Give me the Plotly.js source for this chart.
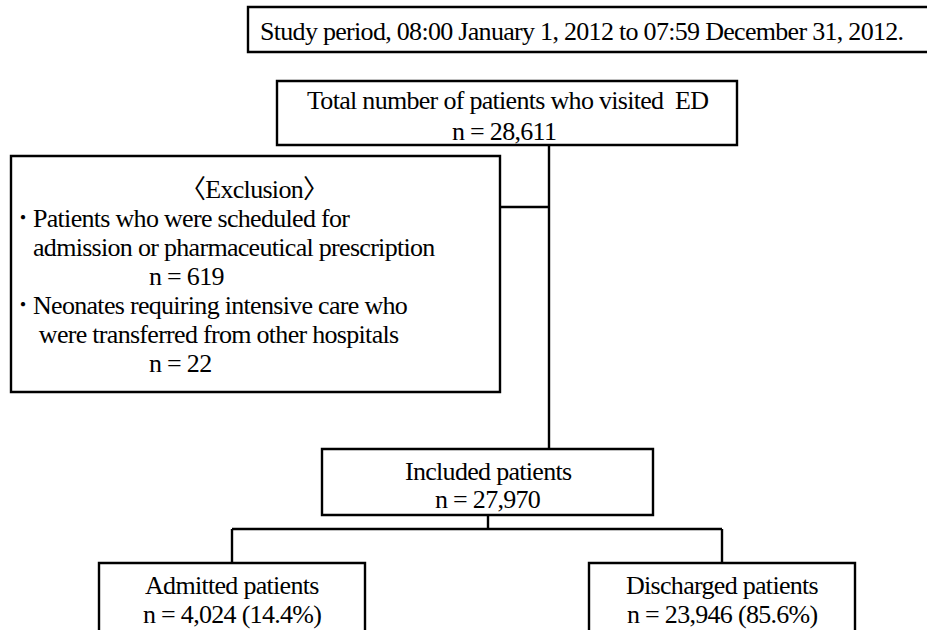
<!DOCTYPE html>
<html>
<head>
<meta charset="utf-8">
<script src="https://cdn.plot.ly/plotly-3.0.1.min.js"></script>
<style>
html,body{margin:0;padding:0;background:#fff;}
#chart{width:927px;height:630px;}
.annotation-text{letter-spacing:-0.7px;}
</style>
</head>
<body>
<div id="chart"></div>
<script>
// ---- data ----
const studyPeriod = "Study period, 08:00 January 1, 2012 to 07:59 December 31, 2012.";
const nodeNames = ["Total number of patients who visited  ED", "Included patients", "Admitted patients", "Discharged patients"];
const nodeCounts = [28611, 27970, 4024, 23946];
const nodePercents = [null, null, 14.4, 85.6];
const exclusionTitle = "〈Exclusion〉";
const bullet = "・";
const exclusionReasons = [
  ["Patients who were scheduled for", "admission or pharmaceutical prescription"],
  ["Neonates requiring intensive care who", " were transferred from other hospitals"]
];
const exclusionCounts = [619, 22];

// ---- layout (pixel geometry) ----
const FONT = {family: "'Liberation Serif', 'Times New Roman', 'Noto Sans CJK JP', serif", size: 26, color: "#000"};
const BFONT = {family: "'Noto Sans CJK JP', sans-serif", size: 20, color: "#000"};
const LW = 2.4;
const boxes = {
  study: [248, 7, 940, 52],
  total: [277, 81, 737, 145],
  excl: [11, 156, 500, 392],
  incl: [322, 449, 653, 515],
  adm: [99, 563, 365, 650],
  dis: [589, 563, 855, 650]
};
const fmt = n => n.toLocaleString('en-US');
const shapes = [];
Object.values(boxes).forEach(b => shapes.push({type: 'rect', xref: 'x', yref: 'y', x0: b[0], y0: b[1], x1: b[2], y1: b[3], line: {color: '#000', width: LW}, fillcolor: 'rgba(0,0,0,0)'}));
const seg = (x0, y0, x1, y1) => shapes.push({type: 'line', xref: 'x', yref: 'y', x0, y0, x1, y1, line: {color: '#000', width: LW}});
seg(549, 145, 549, 449);
seg(500, 207, 549, 207);
seg(488, 515, 488, 529);
seg(232, 529, 722, 529);
seg(232, 529, 232, 563);
seg(722, 529, 722, 563);

const ann = [];
const txt = (text, x, y, xanchor, font) => ann.push({text, x, y, xref: 'x', yref: 'y', xanchor: xanchor || 'center', yanchor: 'middle', showarrow: false, font: font || FONT});
txt(studyPeriod, 581, 31);
txt(nodeNames[0], 507, 100);
txt("n = " + fmt(nodeCounts[0]), 504, 131);
txt(exclusionTitle, 254, 189);
txt(bullet, 22, 216, 'center', BFONT);
txt(exclusionReasons[0][0], 31, 218, 'left');
txt(exclusionReasons[0][1], 31, 247, 'left');
txt("n = " + fmt(exclusionCounts[0]), 147, 276, 'left');
txt(bullet, 22, 303, 'center', BFONT);
txt(exclusionReasons[1][0], 31, 305, 'left');
txt(exclusionReasons[1][1], 31, 334, 'left');
txt("n = " + fmt(exclusionCounts[1]), 147, 363, 'left');
txt(nodeNames[1], 488, 471);
txt("n = " + fmt(nodeCounts[1]), 488, 499);
txt(nodeNames[2], 232, 585);
txt("n = " + fmt(nodeCounts[2]) + " (" + nodePercents[2].toFixed(1) + "%)", 232, 614);
txt(nodeNames[3], 722, 585);
txt("n = " + fmt(nodeCounts[3]) + " (" + nodePercents[3].toFixed(1) + "%)", 722, 614);

Plotly.newPlot('chart', [], {
  width: 927, height: 630,
  margin: {l: 0, r: 0, t: 0, b: 0},
  paper_bgcolor: '#fff', plot_bgcolor: '#fff',
  xaxis: {range: [0, 927], visible: false, fixedrange: true},
  yaxis: {range: [630, 0], visible: false, fixedrange: true},
  shapes, annotations: ann, showlegend: false
}, {staticPlot: true, displayModeBar: false});
</script>
</body>
</html>
